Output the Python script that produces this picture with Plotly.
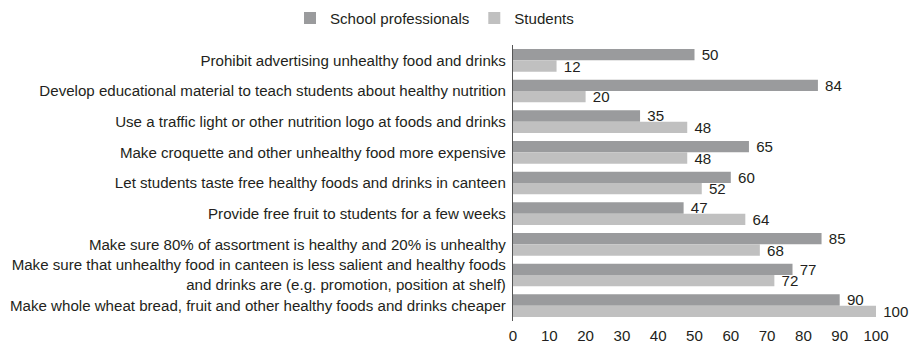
import plotly.graph_objects as go

categories = [
    "Prohibit advertising unhealthy food and drinks",
    "Develop educational material to teach students about healthy nutrition",
    "Use a traffic light or other nutrition logo at foods and drinks",
    "Make croquette and other unhealthy food more expensive",
    "Let students taste free healthy foods and drinks in canteen",
    "Provide free fruit to students for a few weeks",
    "Make sure 80% of assortment is healthy and 20% is unhealthy",
    "Make sure that unhealthy food in canteen is less salient and healthy foods<br>and drinks are (e.g. promotion, position at shelf)",
    "Make whole wheat bread, fruit and other healthy foods and drinks cheaper",
]
school_professionals = [50, 84, 35, 65, 60, 47, 85, 77, 90]
students = [12, 20, 48, 48, 52, 64, 68, 72, 100]
x_ticks = [0, 10, 20, 30, 40, 50, 60, 70, 80, 90, 100]

font_family = "Liberation Sans, Arial, Helvetica, sans-serif"
text_color = "#231f20"
fs = 15.1

fig = go.Figure()
fig.add_trace(go.Bar(
    y=categories, x=school_professionals, name="School professionals",
    orientation="h", marker=dict(color="#9a9b9d", line=dict(width=0)),
    text=school_professionals, texttemplate=" %{x}", textposition="outside",
    constraintext="none",
    textfont=dict(size=fs, color=text_color, family=font_family), cliponaxis=False,
))
fig.add_trace(go.Bar(
    y=categories, x=students, name="Students",
    orientation="h", marker=dict(color="#c0c0c0", line=dict(width=0)),
    text=students, texttemplate=" %{x}", textposition="outside",
    constraintext="none",
    textfont=dict(size=fs, color=text_color, family=font_family), cliponaxis=False,
))

fig.update_layout(
    width=909, height=344,
    margin=dict(l=513, r=33, t=45, b=23, autoexpand=False),
    barmode="group", bargap=0.26, bargroupgap=0,
    plot_bgcolor="white", paper_bgcolor="white",
    font=dict(family=font_family, size=fs, color=text_color),
    showlegend=True,
    legend=dict(orientation="h", x=0.478, xanchor="center", xref="container",
                y=0.995, yanchor="top", yref="container", font=dict(size=fs),
                traceorder="normal"),
    uniformtext=dict(mode=False),
)
fig.update_xaxes(range=[0, 100], tickvals=x_ticks, showgrid=False, zeroline=False,
                 showline=False, ticks="", tickfont=dict(size=fs), ticklabelstandoff=4)
fig.update_yaxes(autorange="reversed", showgrid=False, showline=True,
                 linecolor="#555555", linewidth=1.2, ticks="", tickfont=dict(size=fs),
                 ticklabelstandoff=3, automargin=False)

fig.write_html("out.html")
